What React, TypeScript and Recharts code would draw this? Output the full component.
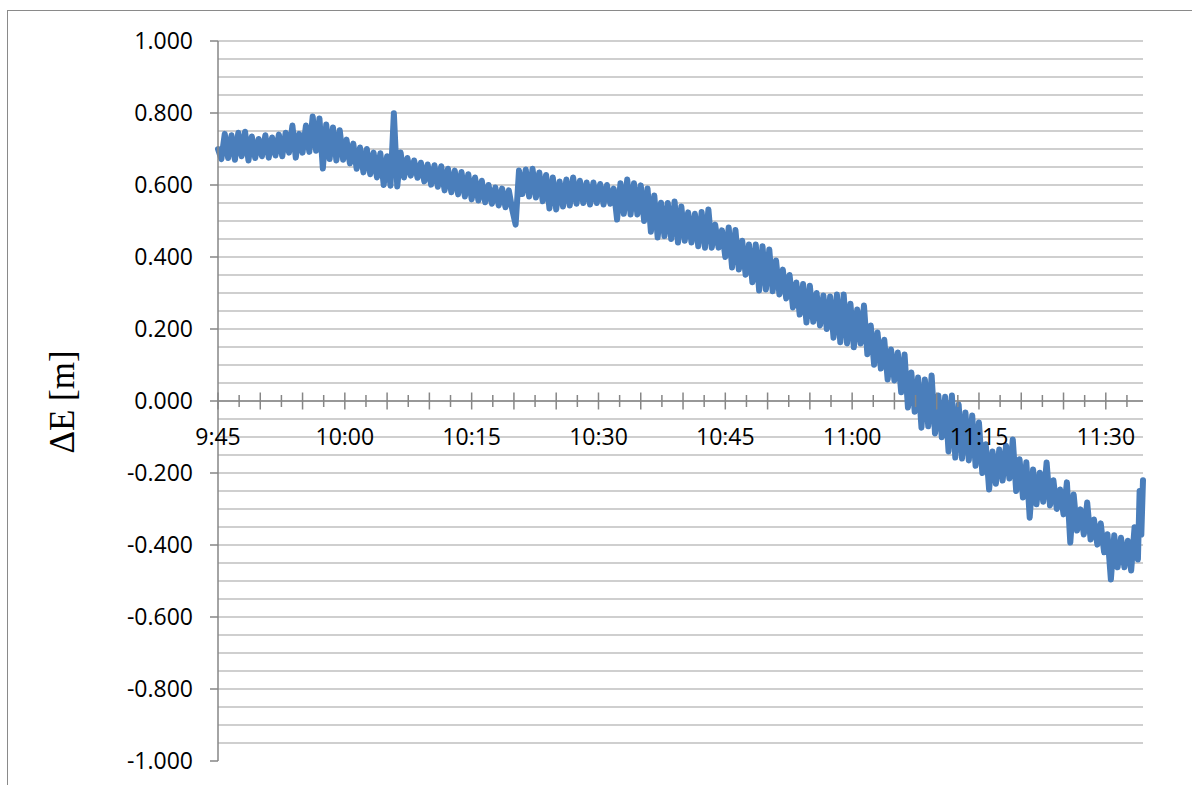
import React from "react";
import {
  CartesianGrid,
  Line,
  LineChart,
  ReferenceLine,
  XAxis,
  YAxis,
} from "recharts";

// minutes after 9:45
const minutes = [
  0, 0.4, 0.8, 1.2, 1.6, 2, 2.4, 2.8, 3.2, 3.6,
  4, 4.4, 4.8, 5.2, 5.6, 6, 6.4, 6.8, 7.2, 7.6,
  8, 8.4, 8.8, 9.2, 9.6, 10, 10.4, 10.8, 11.2, 11.6,
  12, 12.4, 12.8, 13.2, 13.6, 14, 14.4, 14.8, 15.2, 15.6,
  16, 16.4, 16.8, 17.2, 17.6, 18, 18.4, 18.8, 19.2, 19.6,
  20, 20.4, 20.8, 21.2, 21.6, 22, 22.4, 22.8, 23.2, 23.6,
  24, 24.4, 24.8, 25.2, 25.6, 26, 26.4, 26.8, 27.2, 27.6,
  28, 28.4, 28.8, 29.2, 29.6, 30, 30.4, 30.8, 31.2, 31.6,
  32, 32.4, 32.8, 33.2, 33.6, 34, 34.4, 34.8, 35.2, 35.6,
  36, 36.4, 36.8, 37.2, 37.6, 38, 38.4, 38.8, 39.2, 39.6,
  40, 40.4, 40.8, 41.2, 41.6, 42, 42.4, 42.8, 43.2, 43.6,
  44, 44.4, 44.8, 45.2, 45.6, 46, 46.4, 46.8, 47.2, 47.6,
  48, 48.4, 48.8, 49.2, 49.6, 50, 50.4, 50.8, 51.2, 51.6,
  52, 52.4, 52.8, 53.2, 53.6, 54, 54.4, 54.8, 55.2, 55.6,
  56, 56.4, 56.8, 57.2, 57.6, 58, 58.4, 58.8, 59.2, 59.6,
  60, 60.4, 60.8, 61.2, 61.6, 62, 62.4, 62.8, 63.2, 63.6,
  64, 64.4, 64.8, 65.2, 65.6, 66, 66.4, 66.8, 67.2, 67.6,
  68, 68.4, 68.8, 69.2, 69.6, 70, 70.4, 70.8, 71.2, 71.6,
  72, 72.4, 72.8, 73.2, 73.6, 74, 74.4, 74.8, 75.2, 75.6,
  76, 76.4, 76.8, 77.2, 77.6, 78, 78.4, 78.8, 79.2, 79.6,
  80, 80.4, 80.8, 81.2, 81.6, 82, 82.4, 82.8, 83.2, 83.6,
  84, 84.4, 84.8, 85.2, 85.6, 86, 86.4, 86.8, 87.2, 87.6,
  88, 88.4, 88.8, 89.2, 89.6, 90, 90.4, 90.8, 91.2, 91.6,
  92, 92.4, 92.8, 93.2, 93.6, 94, 94.4, 94.8, 95.2, 95.6,
  96, 96.4, 96.8, 97.2, 97.6, 98, 98.4, 98.8, 99.2, 99.6,
  100, 100.4, 100.8, 101.2, 101.6, 102, 102.4, 102.8, 103.2, 103.6,
  104, 104.4, 104.8, 105.2, 105.6, 106, 106.4, 106.8, 107.2, 107.6,
  108, 108.4, 108.8, 109, 109.2, 109.4,
];

// ΔE [m]
const deltaE = [
  0.7, 0.672, 0.742, 0.675, 0.738, 0.67, 0.745, 0.68, 0.748, 0.668,
  0.735, 0.675, 0.728, 0.68, 0.738, 0.676, 0.732, 0.682, 0.74, 0.68,
  0.745, 0.69, 0.765, 0.676, 0.742, 0.69, 0.765, 0.692, 0.79, 0.695,
  0.785, 0.646, 0.768, 0.672, 0.76, 0.668, 0.752, 0.67, 0.726, 0.66,
  0.715, 0.645, 0.704, 0.635, 0.7, 0.63, 0.69, 0.621, 0.688, 0.6,
  0.68, 0.598, 0.799, 0.596, 0.69, 0.621, 0.675, 0.626, 0.668, 0.62,
  0.662, 0.61, 0.657, 0.601, 0.655, 0.595, 0.652, 0.585, 0.645, 0.58,
  0.64, 0.574, 0.636, 0.568, 0.63, 0.56, 0.621, 0.557, 0.612, 0.552,
  0.6, 0.548, 0.593, 0.543, 0.59, 0.538, 0.585, 0.532, 0.49, 0.64,
  0.575, 0.643, 0.568, 0.645, 0.565, 0.635, 0.555, 0.628, 0.535, 0.621,
  0.532, 0.61, 0.54, 0.615, 0.543, 0.621, 0.548, 0.612, 0.55, 0.607,
  0.546, 0.607, 0.55, 0.603, 0.546, 0.6, 0.548, 0.59, 0.504, 0.605,
  0.52, 0.615, 0.518, 0.605, 0.518, 0.599, 0.5, 0.59, 0.47, 0.571,
  0.454, 0.551, 0.458, 0.55, 0.45, 0.554, 0.44, 0.54, 0.445, 0.524,
  0.44, 0.52, 0.43, 0.525, 0.426, 0.532, 0.426, 0.49, 0.426, 0.474,
  0.4, 0.482, 0.371, 0.475, 0.365, 0.445, 0.351, 0.435, 0.33, 0.435,
  0.307, 0.43, 0.31, 0.421, 0.305, 0.39, 0.296, 0.365, 0.285, 0.35,
  0.26, 0.329, 0.24, 0.325, 0.218, 0.32, 0.22, 0.3, 0.21, 0.293,
  0.2, 0.29, 0.176, 0.296, 0.163, 0.296, 0.16, 0.27, 0.149, 0.254,
  0.16, 0.265, 0.13, 0.21, 0.101, 0.19, 0.09, 0.17, 0.06, 0.143,
  0.057, 0.135, 0.024, 0.129, -0.018, 0.079, -0.03, 0.065, -0.074, 0.06,
  -0.07, 0.071, -0.09, 0.015, -0.101, 0.012, -0.14, 0.015, -0.157, -0.01,
  -0.16, -0.032, -0.165, -0.04, -0.18, -0.06, -0.2, -0.12, -0.246, -0.14,
  -0.23, -0.135, -0.221, -0.124, -0.215, -0.107, -0.25, -0.162, -0.268, -0.17,
  -0.324, -0.19, -0.287, -0.199, -0.28, -0.171, -0.29, -0.22, -0.3, -0.246,
  -0.315, -0.226, -0.393, -0.26, -0.36, -0.301, -0.371, -0.282, -0.385, -0.329,
  -0.399, -0.34, -0.42, -0.37, -0.496, -0.373, -0.462, -0.38, -0.462, -0.388,
  -0.471, -0.351, -0.44, -0.25, -0.371, -0.22,
];

const yMajorTicks = [-1, -0.8, -0.6, -0.4, -0.2, 0, 0.2, 0.4, 0.6, 0.8, 1];
const yGridValues = [
  -0.95, -0.9, -0.85, -0.8, -0.75, -0.7, -0.65, -0.6, -0.55, -0.5,
  -0.45, -0.4, -0.35, -0.3, -0.25, -0.2, -0.15, -0.1, -0.05, 0,
  0.05, 0.1, 0.15, 0.2, 0.25, 0.3, 0.35, 0.4, 0.45, 0.5,
  0.55, 0.6, 0.65, 0.7, 0.75, 0.8, 0.85, 0.9, 0.95, 1,
];

const xTicks = [
  0, 2.5, 5, 7.5, 10, 12.5, 15, 17.5, 20, 22.5, 25, 27.5, 30, 32.5, 35,
  37.5, 40, 42.5, 45, 47.5, 50, 52.5, 55, 57.5, 60, 62.5, 65, 67.5, 70,
  72.5, 75, 77.5, 80, 82.5, 85, 87.5, 90, 92.5, 95, 97.5, 100, 102.5, 105,
  107.5,
];
const timeLabels = ["9:45", "10:00", "10:15", "10:30", "10:45", "11:00", "11:15", "11:30"];

const data = minutes.map((m, i) => ({ t: m, e: deltaE[i] }));

const WIDTH = 1192;
const HEIGHT = 785;
const MARGIN = { top: 41, right: 49, bottom: 0, left: 0 };
const X_AXIS_H = 24;
const PLOT_H = HEIGHT - MARGIN.top - MARGIN.bottom - X_AXIS_H;
// the time axis crosses the value axis at 0
const ZERO_Y = MARGIN.top + PLOT_H / 2;

const AXIS = "#868686";
const FONT = "'Open Sans', sans-serif";

function TimeTick(props: any) {
  const { x, payload } = props;
  const v = payload.value;
  const major = v % 5 === 0;
  const len = major ? 8.5 : 6;
  const label = v % 15 === 0 ? timeLabels[v / 15] : null;
  return (
    <g>
      <line x1={x} x2={x} y1={ZERO_Y - len} y2={ZERO_Y + len} stroke={AXIS} strokeWidth={1.5} />
      {label && (
        <text x={x} y={ZERO_Y + 44} textAnchor="middle" fontSize={23} fontFamily={FONT} fill="#000">
          {label}
        </text>
      )}
    </g>
  );
}

export default function App() {
  return (
    <div
      style={{
        position: "fixed",
        left: 0,
        top: 0,
        width: WIDTH,
        height: HEIGHT,
        overflow: "hidden",
        background: "#fff",
      }}
    >
      <div
        style={{
          position: "absolute",
          left: 7,
          top: 10,
          width: 1300,
          height: 900,
          borderLeft: "1.5px solid #8a8a8a",
          borderTop: "1.5px solid #8a8a8a",
        }}
      />
      <div
        style={{
          position: "absolute",
          left: 63,
          top: 402,
          transform: "translate(-50%, -50%) rotate(-90deg)",
          fontFamily: "'Liberation Serif', 'Times New Roman', serif",
          fontSize: 35,
          whiteSpace: "nowrap",
          color: "#000",
        }}
      >
        ΔE [m]
      </div>
      <div style={{ position: "absolute", left: 0, top: 0 }}>
        <LineChart width={WIDTH} height={HEIGHT} data={data} margin={MARGIN}>
          <CartesianGrid
            vertical={false}
            horizontalValues={yGridValues}
            stroke="#bfbfbf"
            strokeWidth={1.3}
          />
          <YAxis
            type="number"
            domain={[-1, 1]}
            ticks={yMajorTicks}
            interval={0}
            width={218}
            stroke={AXIS}
            strokeWidth={1.5}
            tickSize={8}
            tickMargin={17}
            tick={{ fontSize: 23, fontFamily: FONT, fill: "#000" }}
            tickFormatter={(v: number) => v.toFixed(3)}
          />
          <ReferenceLine y={0} stroke={AXIS} strokeWidth={1.5} />
          <Line
            type="linear"
            dataKey="e"
            stroke="#4a7ebb"
            strokeWidth={6}
            strokeLinejoin="round"
            strokeLinecap="round"
            dot={false}
            isAnimationActive={false}
          />
          <XAxis
            type="number"
            dataKey="t"
            domain={[0, 109.4]}
            ticks={xTicks}
            interval={0}
            height={X_AXIS_H}
            axisLine={false}
            tickLine={false}
            tick={<TimeTick />}
          />
        </LineChart>
      </div>
    </div>
  );
}
